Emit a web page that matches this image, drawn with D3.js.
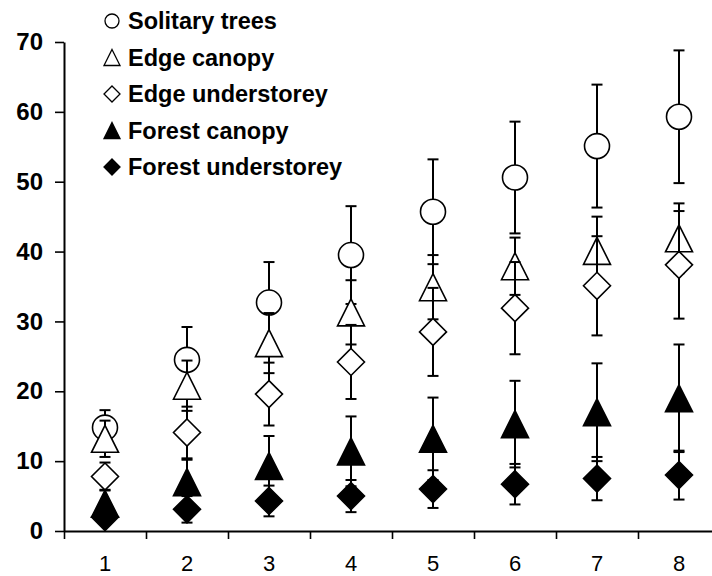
<!DOCTYPE html>
<html>
<head>
<meta charset="utf-8">
<script src="https://cdn.jsdelivr.net/npm/d3@7"></script>
<style>
  body { margin: 0; background: #fff; }
  text { font-family: "Liberation Sans", Arial, sans-serif; }
</style>
</head>
<body>
<div id="chart"></div>
<script>
// #region Data
const categories = [1, 2, 3, 4, 5, 6, 7, 8];
const yTicks = [0, 10, 20, 30, 40, 50, 60, 70];

const solitaryTrees = [14.8, 24.5, 32.7, 39.5, 45.7, 50.6, 55.1, 59.3];
const solitaryTreesSE = [2.5, 4.7, 5.8, 7.0, 7.5, 8.0, 8.8, 9.5];

const edgeCanopy = [13.2, 20.8, 26.9, 31.3, 34.9, 37.9, 40.1, 41.9];
const edgeCanopySE = [2.6, 3.6, 4.3, 4.6, 4.6, 4.1, 4.9, 5.0];

const edgeUnderstorey = [7.8, 14.1, 19.6, 24.2, 28.5, 31.9, 35.1, 38.1];
const edgeUnderstoreySE = [2.0, 3.7, 4.5, 5.3, 6.3, 6.6, 7.1, 7.7];

const forestCanopy = [3.9, 7.0, 9.3, 11.4, 13.2, 15.3, 17.0, 19.0];
const forestCanopySE = [2.0, 3.2, 4.3, 5.0, 5.9, 6.2, 7.0, 7.7];

const forestUnderstorey = [2.0, 3.1, 4.3, 5.0, 6.0, 6.7, 7.5, 8.0];
const forestUnderstoreySE = [1.0, 1.9, 2.2, 2.3, 2.7, 2.9, 3.1, 3.5];

const seriesNames = ['Solitary trees', 'Edge canopy', 'Edge understorey', 'Forest canopy', 'Forest understorey'];
// #endregion

const width = 712;
const height = 576;

const series = [
  { name: seriesNames[0], values: solitaryTrees, se: solitaryTreesSE, shape: 'circle', fill: '#fff' },
  { name: seriesNames[1], values: edgeCanopy, se: edgeCanopySE, shape: 'triangle', fill: '#fff' },
  { name: seriesNames[2], values: edgeUnderstorey, se: edgeUnderstoreySE, shape: 'diamond', fill: '#fff' },
  { name: seriesNames[3], values: forestCanopy, se: forestCanopySE, shape: 'triangle', fill: '#000' },
  { name: seriesNames[4], values: forestUnderstorey, se: forestUnderstoreySE, shape: 'diamond', fill: '#000' },
];

const svg = d3.select('#chart').append('svg')
  .attr('width', width)
  .attr('height', height);

// #region Scales
const x = d3.scaleLinear().domain([0.5, 8.5]).range([64, 720]);
const y = d3.scaleLinear().domain([0, 70]).range([531, 42]);
// #endregion

// #region Axes
const yAxis = svg.append('g')
  .attr('transform', `translate(${x(0.5)},0)`)
  .call(d3.axisLeft(y).tickValues(yTicks).tickSize(9).tickPadding(12).tickSizeOuter(0));
yAxis.select('.domain').attr('stroke-width', 2);
yAxis.selectAll('.tick line').attr('stroke-width', 1.6);
yAxis.selectAll('.tick text')
  .style('font-size', '24px')
  .style('font-weight', 'bold')
  .attr('fill', '#000');

const boundaries = d3.range(0.5, 9, 1);
const xAxis = svg.append('g')
  .attr('transform', `translate(0,${y(0)})`)
  .call(d3.axisBottom(x).tickValues(boundaries).tickSize(8).tickFormat('').tickSizeOuter(0));
xAxis.select('.domain').attr('stroke-width', 2);
xAxis.selectAll('.tick line').attr('stroke-width', 1.6);

svg.append('g')
  .selectAll('text')
  .data(categories)
  .join('text')
  .attr('x', d => x(d))
  .attr('y', y(0) + 40)
  .attr('text-anchor', 'middle')
  .style('font-size', '22px')
  .text(d => d);
// #endregion

// #region Symbols
function symbolPath(shape, s) {
  if (shape === 'triangle') {
    return `M0,${-s / 2}L${s / 2},${s / 2}L${-s / 2},${s / 2}Z`;
  }
  return `M0,${-s / 2}L${s / 2},0L0,${s / 2}L${-s / 2},0Z`;
}

function drawMarker(g, shape, fill, size) {
  if (shape === 'circle') {
    g.append('circle').attr('r', size / 2)
      .attr('fill', fill).attr('stroke', '#000').attr('stroke-width', 1.6);
  } else {
    g.append('path').attr('d', symbolPath(shape, size))
      .attr('fill', fill).attr('stroke', '#000').attr('stroke-width', 1.6)
      .attr('stroke-linejoin', 'miter');
  }
}
// #endregion

// #region Points with error bars
const capHalf = 5.5;
const markerSize = { circle: 25, triangle: 27, diamond: 27 };

series.forEach(s => {
  const g = svg.append('g');
  const pts = categories.map((c, i) => ({ c, v: s.values[i], e: s.se[i] }));

  const bars = g.selectAll('.err').data(pts).join('g').attr('class', 'err');
  bars.append('line')
    .attr('x1', d => x(d.c)).attr('x2', d => x(d.c))
    .attr('y1', d => y(d.v - d.e)).attr('y2', d => y(d.v + d.e))
    .attr('stroke', '#000').attr('stroke-width', 2);
  [-1, 1].forEach(sign => {
    bars.append('line')
      .attr('x1', d => x(d.c) - capHalf).attr('x2', d => x(d.c) + capHalf)
      .attr('y1', d => y(d.v + sign * d.e)).attr('y2', d => y(d.v + sign * d.e))
      .attr('stroke', '#000').attr('stroke-width', 2);
  });

  pts.forEach(d => {
    const m = g.append('g').attr('transform', `translate(${x(d.c)},${y(d.v)})`);
    drawMarker(m, s.shape, s.fill, markerSize[s.shape]);
  });
});
// #endregion

// #region Legend
const legend = svg.append('g').attr('transform', 'translate(112,21)');
series.forEach((s, i) => {
  const row = legend.append('g').attr('transform', `translate(0,${i * 36.5})`);
  const m = row.append('g');
  drawMarker(m, s.shape, s.fill, s.shape === 'circle' ? 14 : 16);
  m.selectAll('circle, path').attr('stroke-width', 1.3);
  row.append('text')
    .attr('x', 16)
    .attr('y', 8)
    .style('font-size', '23.5px')
    .style('font-weight', 'bold')
    .text(s.name);
});
// #endregion
</script>
</body>
</html>
